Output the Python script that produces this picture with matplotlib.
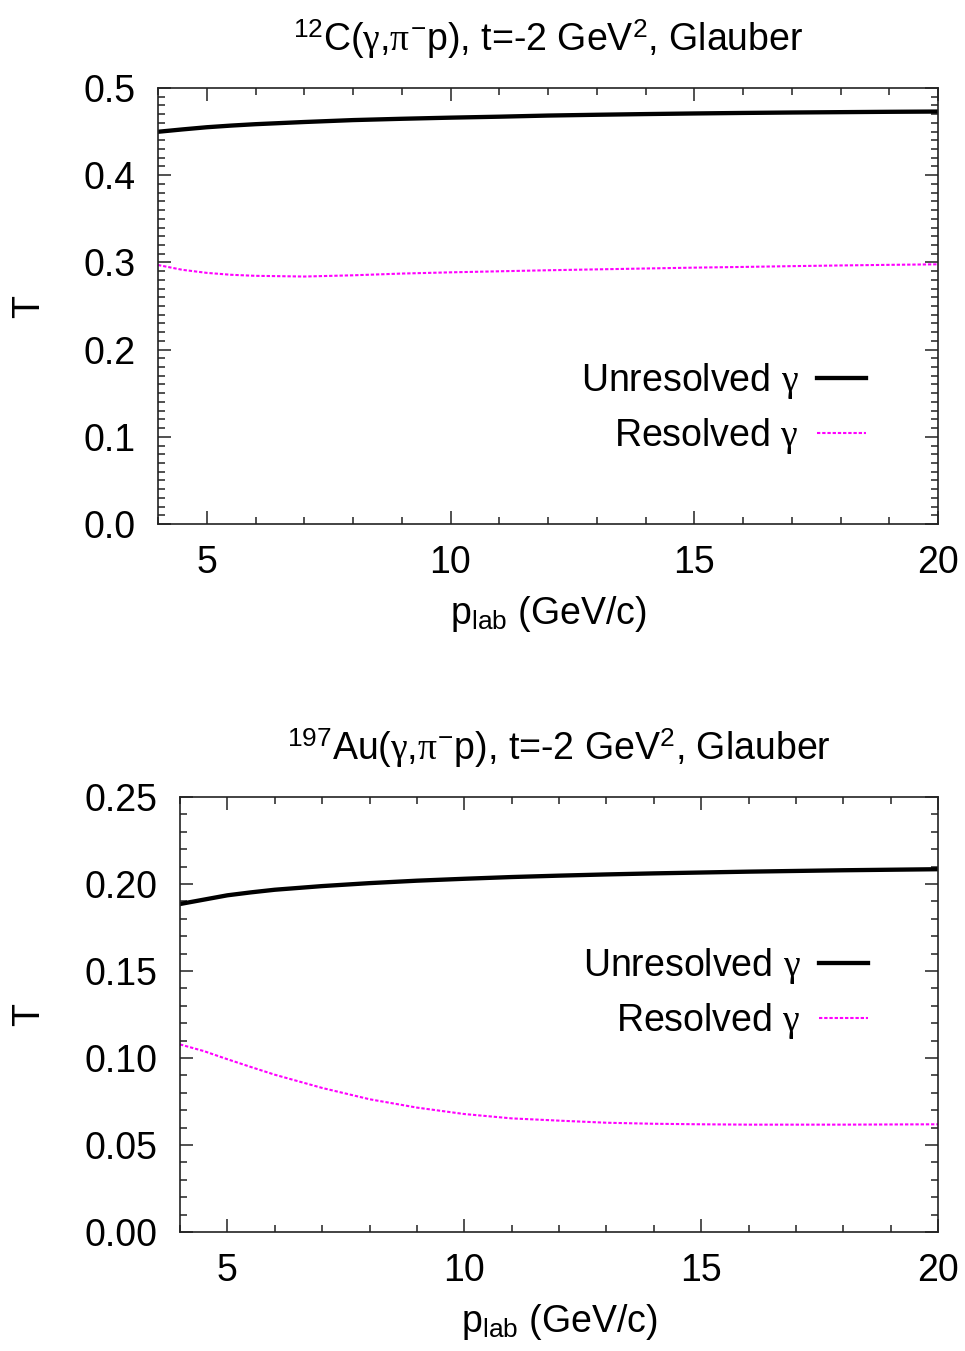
import numpy as np
import matplotlib
matplotlib.use("Agg")
import matplotlib.pyplot as plt
from matplotlib.ticker import MultipleLocator, FormatStrFormatter

# ── Fonts ─────────────────────────────────────────────────────────────────────
plt.rcParams["font.family"] = ["Liberation Sans", "DejaVu Sans"]
plt.rcParams["mathtext.fontset"] = "custom"
plt.rcParams["mathtext.rm"] = "Liberation Sans"
plt.rcParams["mathtext.it"] = "Liberation Serif"   # symbol-like greek
plt.rcParams["mathtext.bf"] = "Liberation Sans:bold"

# ── Data ──────────────────────────────────────────────────────────────────────
p_lab = [4, 4.5, 5, 5.5, 6, 7, 8, 9, 10, 11, 12, 13, 14, 15, 16, 17, 18, 19, 20]

c12_unresolved = [0.4498, 0.4525, 0.4550, 0.4569, 0.4585, 0.4610, 0.4632, 0.4647,
                  0.4660, 0.4671, 0.4684, 0.4693, 0.4701, 0.4708, 0.4714, 0.4719,
                  0.4723, 0.4727, 0.4730]
c12_resolved = [0.2970, 0.2915, 0.2880, 0.2858, 0.2846, 0.2838, 0.2852, 0.2872,
                0.2886, 0.2898, 0.2910, 0.2920, 0.2930, 0.2940, 0.2948, 0.2957,
                0.2965, 0.2972, 0.2978]

au197_unresolved = [0.1885, 0.1910, 0.1935, 0.1952, 0.1967, 0.1988, 0.2005, 0.2019,
                    0.2030, 0.2040, 0.2048, 0.2055, 0.2061, 0.2066, 0.2071, 0.2075,
                    0.2079, 0.2082, 0.2085]
au197_resolved = [0.1078, 0.1040, 0.0993, 0.0948, 0.0904, 0.0828, 0.0763, 0.0715,
                  0.0678, 0.0653, 0.0640, 0.0628, 0.0622, 0.0619, 0.0617, 0.0617,
                  0.0617, 0.0618, 0.0619]

titles = [r"$^{12}$C($\gamma$,$\pi^{-}$p), t=-2 GeV$^{2}$, Glauber",
          r"$^{197}$Au($\gamma$,$\pi^{-}$p), t=-2 GeV$^{2}$, Glauber"]
labels = [r"Unresolved $\gamma$", r"Resolved $\gamma$"]

FS = 27

fig = plt.figure(figsize=(9.65, 13.51), dpi=100)
ax1 = fig.add_axes([158 / 965, 1 - 524 / 1351, 780 / 965, 436 / 1351])
ax2 = fig.add_axes([180 / 965, 1 - 1232 / 1351, 758 / 965, 435 / 1351])

panels = [
    (ax1, c12_unresolved, c12_resolved, (0, 0.5), 0.1, "%.1f", -0.142, titles[0], 0.374),
    (ax2, au197_unresolved, au197_resolved, (0, 0.25), 0.05, "%.2f", -0.175, titles[1], 0.657),
]

for ax, unres, res, ylim, ymaj, yfmt, ylab_x, title, leg_y in panels:
    ax.plot(p_lab, unres, color="black", lw=3.1, label=labels[0])
    ax.plot(p_lab, res, color="#ff00ff", lw=1.5, linestyle=(0, (1.6, 0.9)), label=labels[1])

    ax.set_xlim(4, 20)
    ax.set_ylim(*ylim)
    ax.xaxis.set_major_locator(MultipleLocator(5))
    ax.xaxis.set_minor_locator(MultipleLocator(1))
    ax.yaxis.set_major_locator(MultipleLocator(ymaj))
    ax.yaxis.set_minor_locator(MultipleLocator(0.01))
    ax.yaxis.set_major_formatter(FormatStrFormatter(yfmt))
    ax.tick_params(which="both", direction="in", top=True, right=True,
                   labelsize=FS, width=1.1, color="#222222")
    ax.tick_params(which="major", length=9.5)
    ax.tick_params(which="minor", length=5)
    ax.tick_params(axis="x", which="major", pad=15)
    ax.tick_params(axis="y", which="major", pad=16)
    for s in ax.spines.values():
        s.set_linewidth(1.2)
        s.set_color("#222222")

    ax.set_xlabel(r"p$_{\mathrm{lab}}$ (GeV/c)", fontsize=FS)
    ax.xaxis.set_label_coords(0.5, -0.16)
    ax.set_ylabel("T", fontsize=FS)
    ax.yaxis.set_label_coords(ylab_x, 0.5)
    ax.set_title(title, fontsize=FS, pad=27)

    ax.legend(loc="upper right", bbox_to_anchor=(0.9077, leg_y), frameon=False,
              markerfirst=False, fontsize=FS, handlelength=1.3, handletextpad=0.5,
              labelspacing=0.4, borderpad=0, borderaxespad=0)

fig.savefig("out.png", dpi=100)
